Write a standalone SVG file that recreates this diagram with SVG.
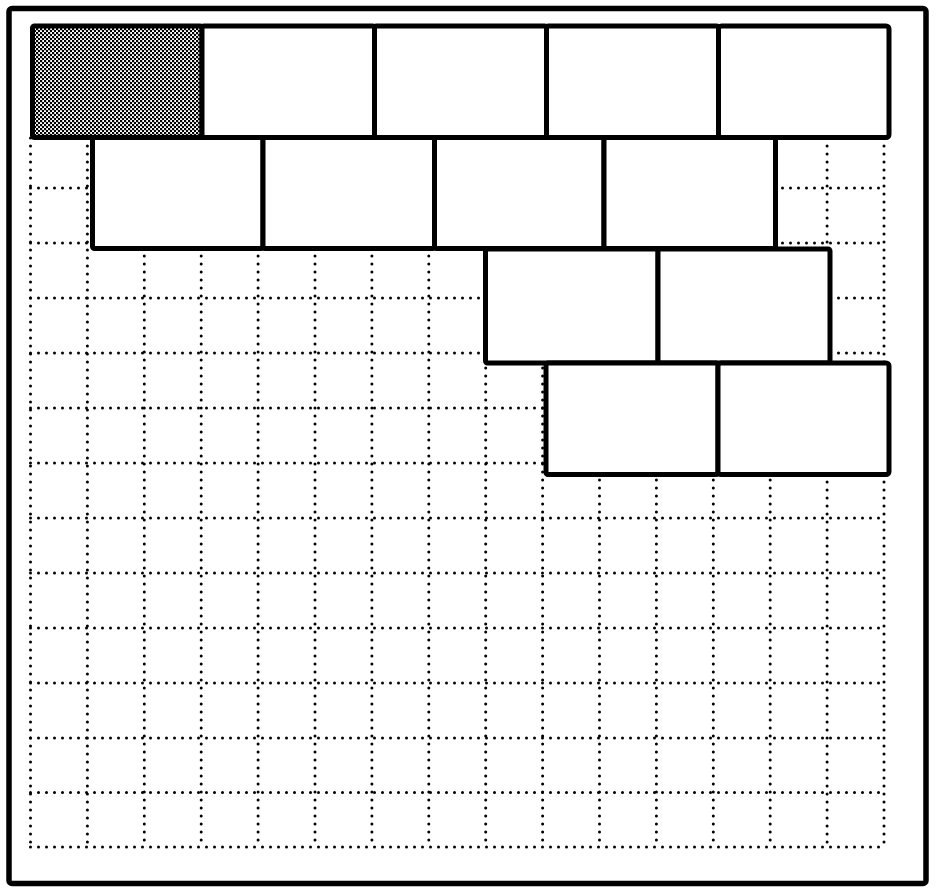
<svg xmlns="http://www.w3.org/2000/svg" width="941" height="893" viewBox="0 0 941 893">
<style>
.grid line{stroke:#000;stroke-width:3;stroke-linecap:round;stroke-dasharray:0 8;fill:none}
.brick{fill:#fff;stroke:#000;stroke-width:5;stroke-linejoin:round}
.shaded{fill:url(#dots)}
.frame{fill:none;stroke:#000;stroke-width:5.5}
</style>
<defs>
<pattern id="dots" width="4" height="4" patternUnits="userSpaceOnUse">
<rect width="4" height="4" fill="#fff"/>
<rect x="0" y="0" width="2.2" height="2.2" fill="#000"/>
<rect x="2" y="2" width="2.2" height="2.2" fill="#000"/>
</pattern>
</defs>
<rect width="941" height="893" fill="#fff"/>
<rect id="frame" class="frame" x="9" y="8.5" width="917" height="875" rx="3"/>
<g id="grid" class="grid">
<line x1="30.5" y1="138" x2="30.5" y2="847"/>
<line x1="87.4" y1="138" x2="87.4" y2="847"/>
<line x1="144.3" y1="248" x2="144.3" y2="847"/>
<line x1="201.2" y1="248" x2="201.2" y2="847"/>
<line x1="258.1" y1="248" x2="258.1" y2="847"/>
<line x1="315" y1="248" x2="315" y2="847"/>
<line x1="371.9" y1="248" x2="371.9" y2="847"/>
<line x1="428.8" y1="248" x2="428.8" y2="847"/>
<line x1="485.7" y1="248" x2="485.7" y2="847"/>
<line x1="542.6" y1="248" x2="542.6" y2="847"/>
<line x1="599.5" y1="248" x2="599.5" y2="847"/>
<line x1="656.4" y1="248" x2="656.4" y2="847"/>
<line x1="713.3" y1="248" x2="713.3" y2="847"/>
<line x1="770.2" y1="248" x2="770.2" y2="847"/>
<line x1="827.1" y1="138" x2="827.1" y2="847"/>
<line x1="884" y1="138" x2="884" y2="847"/>
<line x1="30.5" y1="188" x2="884" y2="188"/>
<line x1="30.5" y1="243" x2="884" y2="243"/>
<line x1="30.5" y1="298" x2="884" y2="298"/>
<line x1="30.5" y1="353" x2="884" y2="353"/>
<line x1="30.5" y1="408" x2="884" y2="408"/>
<line x1="30.5" y1="463" x2="884" y2="463"/>
<line x1="30.5" y1="518" x2="884" y2="518"/>
<line x1="30.5" y1="573" x2="884" y2="573"/>
<line x1="30.5" y1="628" x2="884" y2="628"/>
<line x1="30.5" y1="683" x2="884" y2="683"/>
<line x1="30.5" y1="738" x2="884" y2="738"/>
<line x1="30.5" y1="792.5" x2="884" y2="792.5"/>
<line x1="30.5" y1="847" x2="884" y2="847"/>
</g>
<g id="row1">
<rect id="brick-1-1" class="brick shaded" x="32.5" y="26" width="169.5" height="111.5" rx="2"/>
<rect id="brick-1-2" class="brick" x="202" y="26" width="172.5" height="111.5" rx="2"/>
<rect id="brick-1-3" class="brick" x="374.5" y="26" width="172" height="111.5" rx="2"/>
<rect id="brick-1-4" class="brick" x="546.5" y="26" width="172" height="111.5" rx="2"/>
<rect id="brick-1-5" class="brick" x="718.5" y="26" width="170.5" height="111.5" rx="3"/>
</g>
<g id="row2">
<rect id="brick-2-1" class="brick" x="92.5" y="137.5" width="170.5" height="111" rx="2"/>
<rect id="brick-2-2" class="brick" x="263" y="137.5" width="171.5" height="111" rx="2"/>
<rect id="brick-2-3" class="brick" x="434.5" y="137.5" width="169.5" height="111" rx="2"/>
<rect id="brick-2-4" class="brick" x="604" y="137.5" width="171.5" height="111" rx="2"/>
</g>
<g id="row3">
<rect id="brick-3-1" class="brick" x="485.5" y="249" width="172.5" height="114" rx="2"/>
<rect id="brick-3-2" class="brick" x="658" y="249" width="172" height="114" rx="2"/>
</g>
<g id="row4">
<rect id="brick-4-1" class="brick" x="546" y="363" width="172" height="111.5" rx="2"/>
<rect id="brick-4-2" class="brick" x="718" y="363" width="171" height="111.5" rx="3"/>
</g>
</svg>
